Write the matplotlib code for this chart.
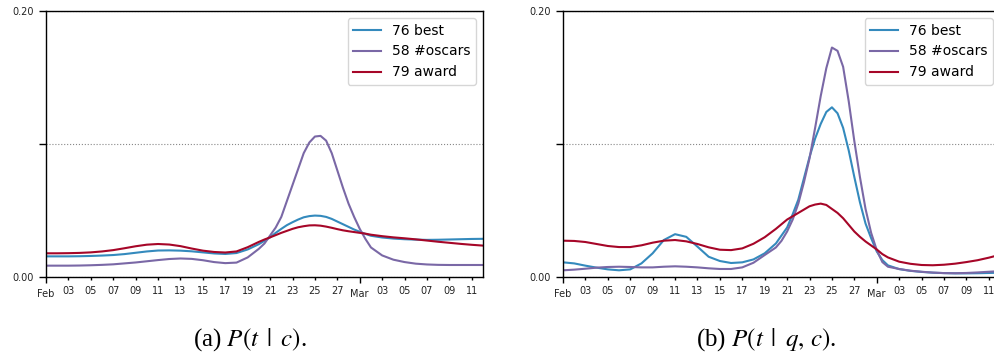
from datetime import datetime, timedelta

import numpy as np
import matplotlib
matplotlib.use('Agg')
import matplotlib.pyplot as plt
import matplotlib.dates as mdates

plt.rcParams['mathtext.fontset'] = 'stix'

# sample times, in days after Feb 1 (half-day steps around the ceremony)
offsets = np.concatenate([np.arange(0, 19), np.arange(19, 29.5, 0.5), np.arange(30, 40)])
start = datetime(2013, 2, 1)
dates = [start + timedelta(days=float(d)) for d in offsets]

labels = ['76 best', '58 #oscars', '79 award']
colors = ['#348ABD', '#7A68A6', '#A60628']

# (a) P(t | c)
a_best = [.0153, .0153, .0153, .0154, .0156, .0159, .0163, .0170, .0180, .0190,
          .0197, .0198, .0196, .0191, .0183, .0175, .0171, .0178, .0205,
          .0245, .027, .0296, .033, .036, .0388, .041, .043, .0447, .0456, .046,
          .0458, .045, .0435, .0415, .0395, .0375, .0355, .0338, .0322, .0308,
          .0295, .0287, .0282, .0279, .0277, .0278, .0280, .0282, .0284, .0285]
a_oscars = [.0083, .0083, .0083, .0084, .0086, .0089, .0093, .0100, .0107, .0116,
            .0125, .0133, .0137, .0134, .0124, .0110, .0102, .0106, .0145,
            .021, .025, .031, .037, .045, .057, .069, .081, .093, .101, .1055,
            .1060, .1024, .093, .080, .067, .055, .045, .036, .0285, .022,
            .016, .0128, .011, .0098, .0092, .0089, .0088, .0088, .0088, .0088]
a_award = [.0176, .0176, .0177, .0179, .0183, .0190, .0200, .0214, .0229, .0241,
           .0246, .0242, .0230, .0212, .0196, .0186, .0182, .0190, .0222,
           .0262, .028, .0296, .0313, .033, .0345, .036, .0372, .038, .0386, .0387,
           .0384, .0377, .0368, .0358, .0349, .0342, .0336, .033, .0324, .0316,
           .0305, .0296, .0289, .0281, .0272, .0263, .0255, .0247, .0240, .0234]

# (b) P(t | q, c)
b_best = [.0108, .0100, .0083, .0068, .0055, .0048, .0055, .0100, .0176, .0276,
          .0320, .0300, .0226, .0150, .0118, .0103, .0108, .0130, .0176,
          .025, .031, .037, .047, .058, .074, .090, .104, .115, .124, .1275,
          .123, .112, .095, .075, .056, .040, .029, .019, .0125, .0085,
          .0057, .0044, .0036, .0030, .0027, .0025, .0025, .0026, .0028, .0030]
b_oscars = [.0048, .0053, .0060, .0068, .0073, .0075, .0073, .0070, .0070, .0075,
            .0078, .0075, .0070, .0063, .0058, .0058, .0070, .0105, .0163,
            .022, .027, .034, .043, .055, .071, .089, .112, .136, .157, .1725,
            .170, .158, .132, .102, .075, .051, .033, .020, .011, .0075,
            .0058, .0045, .0037, .0031, .0027, .0026, .0028, .0032, .0037, .0042]
b_award = [.0271, .0269, .0261, .0246, .0231, .0223, .0223, .0236, .0256, .0271,
           .0276, .0266, .0246, .0221, .0203, .0200, .0213, .0248, .0297,
           .036, .0395, .043, .0455, .048, .0505, .053, .0543, .055, .054, .051,
           .048, .044, .039, .034, .030, .0265, .0235, .0205, .017, .0145,
           .0113, .0097, .0088, .0086, .0090, .0098, .0110, .0124, .0143, .0165]

panels = [
    ([a_best, a_oscars, a_award], r'(a) $P(t\enspace|\enspace c)$.'),
    ([b_best, b_oscars, b_award], r'(b) $P(t\enspace|\enspace q,\, c)$.'),
]

fig = plt.figure(figsize=(9.95, 3.56), dpi=100)
lefts = [46 / 995, 563 / 995]
caption_x = [250 / 995, 766.5 / 995]

for i, (series, caption) in enumerate(panels):
    ax = fig.add_axes([lefts[i], 0.2228, 437 / 995, 0.7463])
    for y, lab, c in zip(series, labels, colors):
        ax.plot(dates, y, color=c, lw=1.5, label=lab)

    ax.set_xlim(datetime(2013, 2, 1), datetime(2013, 3, 12))
    ax.set_ylim(0, 0.2)
    ax.set_yticks([0, 0.1, 0.2])
    ax.set_yticklabels(['0.00', '', '0.20'])
    ax.yaxis.grid(True, ls=':', color='#888888', lw=0.8)

    ax.xaxis.set_major_locator(mdates.MonthLocator())
    ax.xaxis.set_major_formatter(mdates.DateFormatter('%b'))
    ax.xaxis.set_minor_locator(mdates.DayLocator(bymonthday=range(3, 32, 2)))
    ax.xaxis.set_minor_formatter(mdates.DateFormatter('%d'))

    ax.tick_params(axis='x', which='major', length=4.5, width=1, pad=4.5,
                   labelsize=7, labelcolor='#222222')
    ax.tick_params(axis='x', which='minor', length=2.3, width=1, pad=4.3,
                   labelsize=7, labelcolor='#222222')
    ax.tick_params(axis='y', which='major', length=4.8, width=1, pad=4,
                   labelsize=7, labelcolor='#222222')
    for sp in ax.spines.values():
        sp.set_linewidth(1.0)

    ax.legend(loc='upper right', fontsize=10)

    fig.text(caption_x[i], 0.028, caption, ha='center', va='baseline',
             fontsize=18, family='Liberation Serif')

fig.savefig('out.png', dpi=100)
